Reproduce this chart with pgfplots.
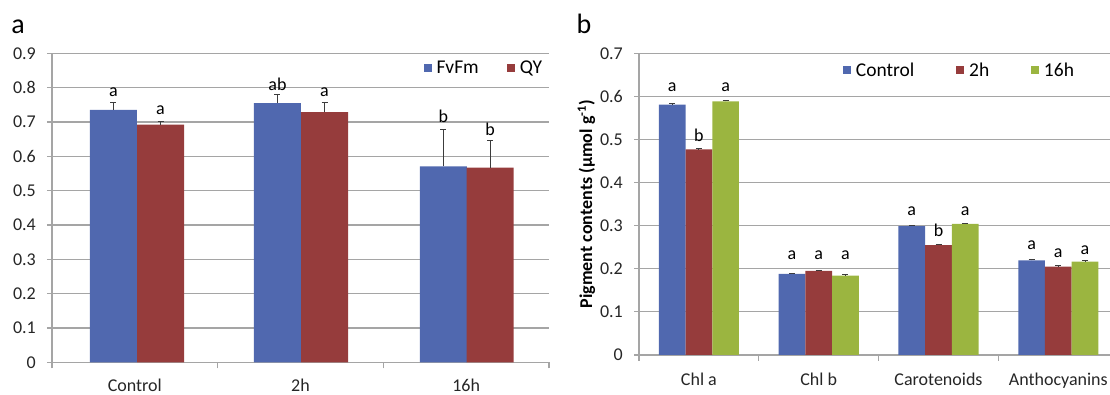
\documentclass[border=0pt]{standalone}
\usepackage{pgfplots}
\pgfplotsset{compat=1.18}
\usepackage{fontspec}
\setmainfont{Carlito}
\definecolor{cblue}{RGB}{80,104,175}
\definecolor{cred}{RGB}{150,60,60}
\definecolor{cgreen}{RGB}{155,181,64}
\definecolor{gridgray}{RGB}{165,165,165}
\definecolor{errgray}{RGB}{60,60,60}
\begin{document}
\begin{tikzpicture}[x=1pt,y=1pt]
\pgfplotsset{
  common/.style={
    scale only axis,
    axis x line*=bottom, axis y line*=left,
    ymajorgrids,
    grid style={draw=gridgray, line width=1.1pt},
    axis line style={draw=gridgray, line width=1.1pt},
    tick align=outside, major tick length=5pt, minor tick length=6pt,
    tick style={draw=gridgray, line width=1.1pt},
    major x tick style={draw=none},
    ymin=0, xmin=-0.5,
    /pgf/number format/assume math mode=true,
    ticklabel style={font=\fontsize{18}{20}\selectfont, text=black!85},
    yticklabel style={anchor=east, inner sep=0pt, xshift=-11pt},
    legend style={draw=none, fill=none, inner sep=0pt, outer sep=0pt,
      font=\fontsize{19.5}{21}\selectfont, nodes={inner sep=2pt},
      /tikz/every odd column/.append style={column sep=3pt}},
  },
  sq/.style={legend image code/.code={\fill[##1] (0pt,-4pt) rectangle (8pt,4pt);}},
  bars/.style={ybar, bar shift=0pt, draw=none,
    error bars/y dir=plus, error bars/y explicit,
    error bars/error bar style={line width=1pt, draw=errgray},
    error bars/error mark options={rotate=90, mark size=3pt, line width=1pt, draw=errgray}},
  labs/.style={draw=none, mark=none, forget plot, nodes near coords,
    point meta=explicit symbolic,
    nodes near coords style={anchor=center, inner sep=0pt, font=\fontsize{18}{20}\selectfont, text=black}},
}
% ---------------- panel a ----------------
\begin{axis}[common,
  at={(52pt,32.7pt)}, anchor=south west,
  width=497pt, height=309pt,
  xmax=2.5, ymax=0.9,
  xticklabel style={anchor=base, inner sep=0pt, yshift=-24pt},
  ytick={0,0.1,0.2,0.3,0.4,0.5,0.6,0.7,0.8,0.9},
  xtick={0,1,2}, xticklabels={Control,2h,16h},
  minor xtick={-0.5,0.5,1.5,2.5},
  legend columns=2,
  legend style={at={(1,1)}, anchor=east, xshift=-5pt, yshift=-14.7pt,
    /tikz/every even column/.append style={column sep=26pt}},
]
\addplot[bars, bar width=0.2837, fill=cblue, sq] table[x=x, y=y, y error=e]{
x y e
-0.129 0.7355 0.0205
0.861 0.7547 0.025
1.863 0.5706 0.108
};
\addlegendentry{FvFm}
\addplot[bars, bar width=0.2837, fill=cred, sq] table[x=x, y=y, y error=e]{
x y e
0.155 0.692 0.008
1.145 0.7285 0.029
2.145 0.567 0.078
};
\addlegendentry{QY}
\addplot[labs] table[x=x, y=y, meta=lab]{
x y lab
-0.129 0.7866 a
0.155 0.7355 a
0.861 0.809 ab
1.145 0.7866 a
1.863 0.716 b
2.145 0.678 b
};
\end{axis}
% ---------------- panel b ----------------
\begin{axis}[common,
  at={(639pt,40pt)}, anchor=south west,
  width=471pt, height=301.7pt,
  xmax=3.4316, ymax=0.7,
  xticklabel style={anchor=base, inner sep=0pt, yshift=-26pt},
  ytick={0,0.1,0.2,0.3,0.4,0.5,0.6,0.7},
  xtick={0,1,2,3}, xticklabels={Chl a,Chl b,Carotenoids,Anthocyanins},
  minor xtick={-0.5,0.5,1.5,2.5,3.5},
  ylabel={Pigment contents (µmol g\textsuperscript{-1})},
  every axis y label/.style={at={(axis description cs:0,0.5)}, xshift=-52.6pt,
    rotate=90, anchor=center, font=\bfseries\fontsize{18}{20}\selectfont},
  legend columns=3,
  legend style={at={(1,1)}, anchor=east, xshift=-34pt, yshift=-16.7pt,
    /tikz/every even column/.append style={column sep=39.7pt}},
]
\addplot[bars, bar width=0.2229, fill=cblue, sq] table[x=x, y=y, y error=e]{
x y e
-0.2229 0.5807 0.002
0.7771 0.188 0.002
1.7771 0.299 0.002
2.7771 0.2197 0.002
};
\addlegendentry{Control}
\addplot[bars, bar width=0.2229, fill=cred, sq] table[x=x, y=y, y error=e]{
x y e
0 0.477 0.002
1 0.195 0.002
2 0.255 0.002
3 0.205 0.002
};
\addlegendentry{2h}
\addplot[bars, bar width=0.2229, fill=cgreen, sq] table[x=x, y=y, y error=e]{
x y e
0.2229 0.5886 0.002
1.2229 0.184 0.002
2.2229 0.304 0.002
3.2229 0.2165 0.002
};
\addlegendentry{16h}
\addplot[labs] table[x=x, y=y, meta=lab]{
x y lab
-0.2229 0.621 a
0 0.510 b
0.2229 0.6225 a
0.7771 0.232 a
1 0.232 a
1.2229 0.232 a
1.7771 0.3325 a
2 0.2884 b
2.2229 0.3325 a
2.7771 0.255 a
3 0.236 a
3.2229 0.2436 a
};
\end{axis}
\node[anchor=base, font=\fontsize{28}{30}\selectfont] at (18,361) {a};
\node[anchor=base, font=\fontsize{28}{30}\selectfont] at (584,361) {b};
\pgfresetboundingbox
\path[use as bounding box] (0,0) rectangle (1110,395);
\end{tikzpicture}
\end{document}
